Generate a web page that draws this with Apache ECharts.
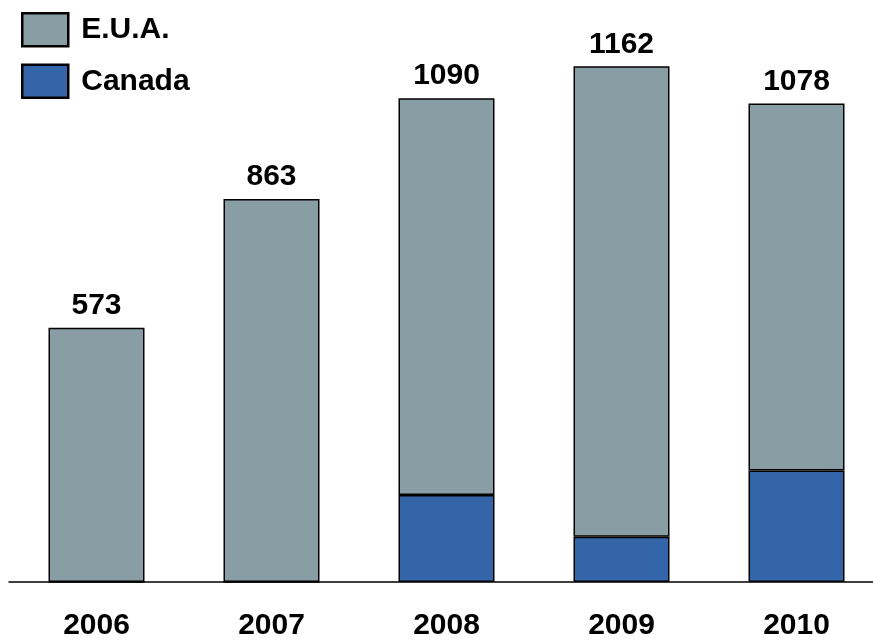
<!DOCTYPE html>
<html>
<head>
<meta charset="utf-8">
<script src="https://cdn.jsdelivr.net/npm/echarts@6/dist/echarts.min.js"></script>
<style>
  html, body { margin: 0; padding: 0; background: #ffffff; overflow: hidden; width: 873px; height: 100vh; }
  /* the plot runs slightly past the right edge, so the canvas is a little wider than the page */
  #chart { width: 884px; height: 100vh; }
</style>
</head>
<body>
<div id="chart"></div>
<script>
// Years on the category axis
const years = ['2006', '2007', '2008', '2009', '2010'];
// Stacked segments per year
const euaValues = [573, 863, 894, 1060, 827];
const canadaValues = [0, 0, 196, 102, 251];

const totals = years.map((_, i) => euaValues[i] + canadaValues[i]);

const FONT = '"Liberation Sans", Arial, sans-serif';
const chart = echarts.init(document.getElementById('chart'));

chart.setOption({
  animation: false,
  backgroundColor: '#ffffff',
  grid: { left: 9, right: 0, top: 5, height: 581, containLabel: false },
  legend: {
    data: ['E.U.A.', 'Canada'],
    orient: 'vertical',
    left: 21,
    top: 12,
    padding: 0,
    itemWidth: 46,
    itemHeight: 33,
    itemGap: 16,
    icon: 'rect',
    itemStyle: { borderColor: '#000000', borderWidth: 2.5 },
    textStyle: { fontFamily: FONT, fontWeight: 'bold', fontSize: 30, color: '#000000', padding: [6, 0, 0, 8] }
  },
  xAxis: {
    type: 'category',
    data: years,
    axisLine: { show: true, lineStyle: { color: '#000000', width: 1.5 } },
    axisTick: { show: false },
    axisLabel: { fontFamily: FONT, fontWeight: 'bold', fontSize: 30, color: '#000000', margin: 29 }
  },
  yAxis: {
    type: 'value',
    min: 0,
    max: 1300,
    show: false,
    splitLine: { show: false }
  },
  series: [
    {
      name: 'Canada',
      type: 'bar',
      stack: 'total',
      barWidth: 96,
      data: canadaValues,
      itemStyle: { color: '#3465a9', borderColor: '#000000', borderWidth: 1.5 }
    },
    {
      name: 'E.U.A.',
      type: 'bar',
      stack: 'total',
      barWidth: 96,
      data: euaValues,
      itemStyle: { color: '#889da4', borderColor: '#000000', borderWidth: 1.5 },
      label: {
        show: true,
        position: 'top',
        distance: 7,
        fontFamily: FONT,
        fontWeight: 'bold',
        fontSize: 30,
        color: '#000000',
        formatter: p => String(totals[p.dataIndex])
      }
    }
  ]
});
</script>
</body>
</html>
